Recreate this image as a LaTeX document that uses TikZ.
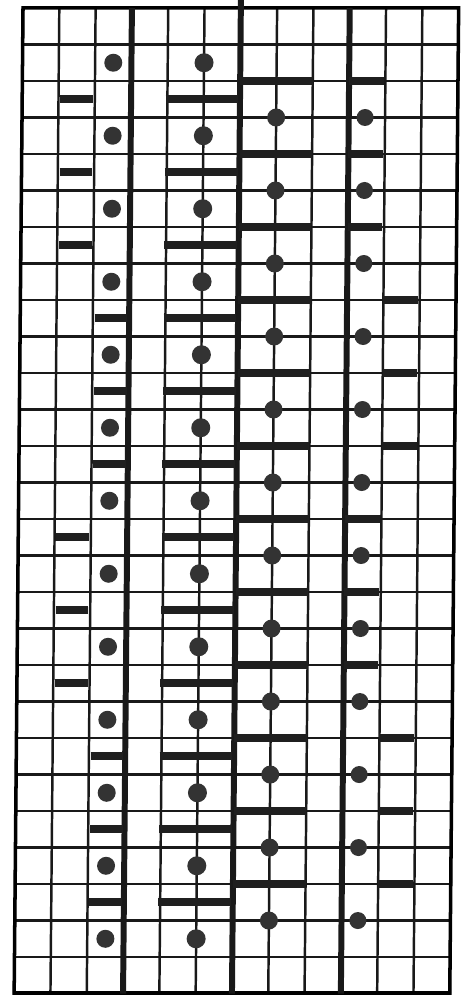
\documentclass[tikz,border=0pt]{standalone}
\usepackage{tikz}

\begin{document}
\begin{tikzpicture}[
    x=3.63mm, y=-3.65mm,
    gridline/.style={line width=0.7pt, black!90},
    heavyline/.style={line width=1.7pt, black!90},
    bar/.style={line width=2.2pt, black!88},
    stitch/.style={fill=black!80}
  ]
  \useasboundingbox (-0.634,-0.219) rectangle (12.04,27.04);
  \begin{scope}[xslant=0.009]
    \foreach \c in {0,...,12} \draw[gridline] (\c,0) -- (\c,27);
    \foreach \r in {0,...,27} \draw[gridline] (0,\r) -- (12,\r);
    \draw[line width=1pt] (0,0) rectangle (12,27);
    \draw[line width=1.5pt] (0,27) -- (12,27);
    \foreach \c in {3,9} \draw[heavyline] (\c,0) -- (\c,27);
    \draw[heavyline] (6,-0.3) -- (6,27);
    % left half: dots and bars on the rows
    \foreach \r in {1.5,3.5,...,25.5} {
      \fill[stitch] (2.5,\r) circle[radius=0.9mm];
      \fill[stitch] (5,\r) circle[radius=0.95mm];
    }
    \foreach \r/\c in {2.5/1, 4.5/1, 6.5/1, 8.5/2, 10.5/2, 12.5/2,
                       14.5/1, 16.5/1, 18.5/1, 20.5/2, 22.5/2, 24.5/2} {
      \draw[bar] (\c+0.05,\r) -- (\c+0.95,\r);
      \draw[bar] (3.95,\r) -- (5.95,\r);
    }
    % right half: dots and bars on the grid lines
    \foreach \r in {3,5,...,25} {
      \fill[stitch] (7,\r) circle[radius=0.9mm];
      \fill[stitch] (9.45,\r) circle[radius=0.85mm];
    }
    \foreach \r/\c in {2/9, 4/9, 6/9, 8/10, 10/10, 12/10,
                       14/9, 16/9, 18/9, 20/10, 22/10, 24/10} {
      \draw[bar] (\c,\r) -- (\c+0.95,\r);
      \draw[bar] (6,\r) -- (8,\r);
    }
  \end{scope}
\end{tikzpicture}
\end{document}
